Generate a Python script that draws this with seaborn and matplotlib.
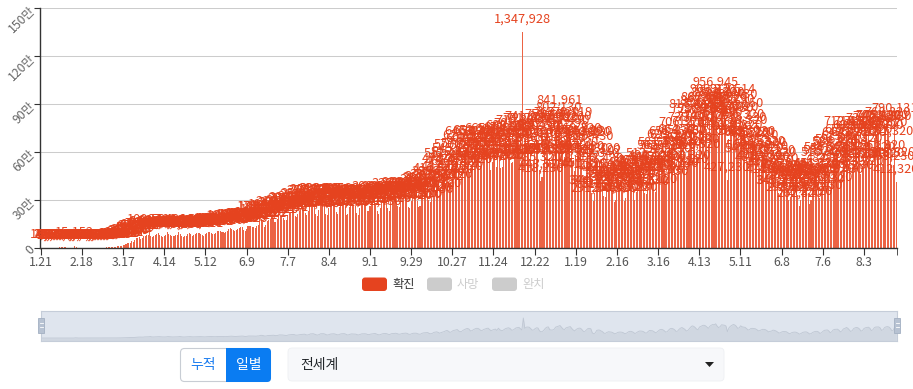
import numpy as np
import pandas as pd
import matplotlib
matplotlib.use("Agg")
import matplotlib.pyplot as plt
import seaborn as sb
from matplotlib.patches import FancyBboxPatch, Rectangle, Polygon

plt.rcParams["font.family"] = ["Noto Sans CJK KR", "DejaVu Sans"]

# daily new confirmed cases, worldwide (2020-01-21 .. 2021-08-25)
jan2020 = [149, 98, 277, 486, 669, 802, 2632, 578, 2054, 1661, 2098]
feb2020 = [2611, 2058, 3242, 3925, 3748, 3164, 3480, 2642, 3040, 2501, 2045, 408, 15152, 6509, 2129,
           2098, 1911, 1756, 740, 558, 1003, 1032, 317, 521, 806, 914, 1226, 1346, 1727]
mar2020 = [1811, 1878, 2364, 2258, 2715, 3955, 3913, 3680, 3958, 4487, 7027, 7118, 10832, 10660, 11116,
           13889, 15869, 18842, 27237, 31764, 30366, 33561, 41130, 40231, 50276, 62218, 64392, 65970,
           59296, 60117, 75063]
apr2020 = [76112, 80133, 84236, 100524, 76218, 71456, 76872, 81309, 85244, 92380, 80563, 76019, 71455,
           72211, 80632, 97421, 88230, 80190, 72391, 74132, 75210, 78911, 84250, 100105, 86233, 73462,
           70233, 74852, 76338, 87412]
may2020 = [94213, 85322, 77100, 81235, 85422, 92310, 95230, 94210, 86452, 80123, 76211, 86324, 92416,
           97830, 100124, 95231, 87520, 88142, 96327, 106234, 105436, 106850, 102341, 97213, 93120,
           100782, 107645, 118521, 125374, 118635, 111420]
jun2020 = [105230, 112420, 121345, 127436, 130254, 131211, 114235, 107123, 121232, 136401, 137420,
           139125, 134232, 131234, 126512, 140217, 142510, 179541, 181232, 160321, 134221, 141232,
           168230, 174512, 180234, 192130, 189213, 162411, 164210, 184230]
jul2020 = [210234, 208123, 204210, 189321, 177230, 176541, 209234, 217320, 227412, 238540, 230412,
           197420, 196340, 214232, 228541, 243212, 253421, 259123, 218234, 205231, 232145, 279321,
           280430, 288432, 254213, 215230, 199420, 239543, 288541, 292145, 290321]
aug2020 = [262340, 213120, 206310, 248421, 273412, 279320, 285421, 263241, 224310, 211420, 257432,
           283421, 289410, 295320, 264312, 208130, 215430, 255320, 277321, 270341, 269320, 260430,
           218430, 209341, 251220, 282341, 283120, 286530, 275420, 232410, 232150]
sep2020 = [263420, 276540, 283410, 308210, 266420, 228540, 212430, 248530, 283120, 299120, 306420,
           291230, 251340, 233410, 287320, 301420, 307560, 322410, 301230, 262430, 257420, 290340,
           312450, 323210, 331420, 306540, 254430, 249320, 291340, 321430]
oct2020 = [327540, 327120, 294320, 258430, 262120, 318430, 346540, 358320, 363420, 366230, 299120,
           287430, 313450, 380320, 399120, 416540, 380320, 325320, 367432, 398230, 432120, 478340,
           512432, 461230, 382120, 414320, 492120, 515430, 545120, 570340, 476230]
nov2020 = [429320, 446120, 523420, 576430, 621320, 646430, 602450, 475320, 497320, 560320, 614320,
           653210, 650430, 601420, 512430, 513420, 575640, 612540, 644320, 665430, 581320, 490320,
           538120, 576430, 602340, 507120, 662430, 561340, 497320, 508430]
dec2020 = [580340, 639210, 671320, 688430, 641320, 532430, 536120, 607320, 681230, 701430, 719320,
           634420, 542120, 1347928, 650320, 731420, 741230, 728430, 635320, 531420, 543120, 632410,
           688430, 673230, 485320, 418230, 443520, 529430, 656320, 728430, 752430]
jan2021 = [560340, 538210, 542130, 589320, 734320, 765430, 802130, 841961, 728430, 607320, 566430,
           680320, 717430, 741230, 770119, 643430, 539320, 478320, 581230, 636430, 669320, 654420,
           557430, 441120, 451320, 545430, 640320, 651230, 620430, 344320, 291540]
feb2021 = [344230, 512340, 541320, 531102, 478430, 421320, 322430, 318430, 381320, 423430, 412320,
           398430, 362120, 290320, 301430, 362430, 396540, 402120, 393430, 362320, 296120, 312430,
           374320, 440320, 452430, 431320, 383320, 301230]
mar2021 = [352120, 421430, 468320, 470320, 459230, 421120, 344230, 339540, 441320, 512320, 498120,
           487320, 432230, 351120, 402430, 487320, 562430, 581430, 559320, 492320, 398430, 429320,
           541430, 628320, 651430, 622320, 561320, 449230, 461320, 578430, 664320]
apr2021 = [706320, 652430, 585320, 476120, 498320, 614320, 739420, 817430, 791320, 712320, 601230,
           566320, 739320, 786430, 842320, 862430, 826320, 746320, 652120, 785320, 862430, 909320,
           891430, 956945, 803320, 701230, 767430, 893320, 880430, 862320]
may2021 = [812320, 427230, 681320, 791430, 851230, 912514, 880430, 797320, 652430, 684320, 824150,
           756320, 738430, 718320, 642320, 541320, 562430, 645320, 651230, 637121, 624320, 568320,
           487320, 498430, 548320, 585320, 581320, 557430, 494320, 411230, 448320]
jun2021 = [468320, 531150, 517320, 478430, 416320, 341230, 345320, 410320, 439320, 432230, 428320,
           372320, 298320, 316430, 371320, 392430, 401320, 383230, 332120, 262320, 299320, 364320,
           399430, 413320, 405230, 346320, 272120, 301320, 372430, 418320]
jul2021 = [446320, 451230, 411320, 309430, 351230, 443320, 518320, 533230, 546320, 482120, 362320,
           418320, 541230, 583320, 586430, 596230, 521320, 412430, 482320, 615320, 642320, 712430,
           659320, 548430, 439230, 503320, 641320, 689320, 712320, 683430, 604320]
aug2021 = [463320, 512320, 641230, 690320, 712430, 731320, 664320, 502430, 549320, 690320, 741320,
           744230, 748430, 684320, 509320, 561320, 703320, 751320, 768320, 742320, 651320, 493230,
           518320, 790131, 412320]

cases = (jan2020 + feb2020 + mar2020 + apr2020 + may2020 + jun2020 + jul2020 + aug2020 + sep2020
         + oct2020 + nov2020 + dec2020 + jan2021 + feb2021 + mar2021 + apr2021 + may2021 + jun2021
         + jul2021 + aug2021)
dates = pd.date_range("2020-01-21", periods=len(cases), freq="D")
print("days:", len(cases), dates[-1].date())

tick_labels = ["1.21", "2.18", "3.17", "4.14", "5.12", "6.9", "7.7", "8.4", "9.1", "9.29", "10.27",
               "11.24", "12.22", "1.19", "2.16", "3.16", "4.13", "5.11", "6.8", "7.6", "8.3"]
y_ticks = [0, 300000, 600000, 900000, 1200000, 1500000]
y_labels = ["0", "30만", "60만", "90만", "120만", "150만"]
legend_names = ["확진", "사망", "완치"]

df = pd.DataFrame({"day": np.arange(len(cases)), "cases": cases})
N = len(df)

RED = "#e5431f"
W, H = 913, 389
fig = plt.figure(figsize=(W / 100, H / 100), dpi=100)


def box(l, t, r, b):
    return [l / W, 1 - b / H, (r - l) / W, (b - t) / H]


# main bar chart
ax = fig.add_axes(box(40, 8, 897, 248))
sb.barplot(data=df, x="day", y="cases", color="#ec6344", saturation=1, width=0.7,
           errorbar=None, linewidth=0, ax=ax)
ax.set_xlim(-0.5, N - 0.5)
ax.set_ylim(0, 1500000)
ax.set_xlabel("")
ax.set_ylabel("")
ax.set_axisbelow(True)
ax.yaxis.grid(True, color="#cccccc", linewidth=0.75)
ax.xaxis.grid(False)
for s in ["top", "right"]:
    ax.spines[s].set_visible(False)
for s in ["left", "bottom"]:
    ax.spines[s].set_color("#333333")
    ax.spines[s].set_linewidth(1)

ax.set_yticks(y_ticks, y_labels)
ax.tick_params(axis="y", length=4, color="#333333", labelsize=8.8, labelcolor="#666666", pad=1)
for lbl in ax.get_yticklabels():
    lbl.set_rotation(45)
    lbl.set_rotation_mode("anchor")
    lbl.set_ha("right")
    lbl.set_va("center")

tick_pos = [i * 28 for i in range(len(tick_labels))]
ax.set_xticks(tick_pos, tick_labels)
ax.set_xticks([N - 0.5], minor=True)
ax.tick_params(axis="x", which="both", length=5, color="#333333", labelsize=8.8,
               labelcolor="#555555", pad=1)

for i, v in enumerate(cases):
    ax.annotate(f"{v:,}", (i, v), xytext=(0, 13), textcoords="offset pixels",
                ha="center", va="center", fontsize=9.2, color=RED,
                annotation_clip=False, clip_on=False)

# data zoom slider
sl = fig.add_axes(box(41, 311, 897, 341))
sl.set_facecolor("#dfe5ee")
sl.fill_between(df["day"], df["cases"], -300000, color="#d0d7e1", linewidth=0)
sl.plot(df["day"], df["cases"], color="#bfc7d3", linewidth=0.6)
sl.set_xlim(-0.5, N - 0.5)
sl.set_ylim(-200000, 1820000)
sl.set_xticks([])
sl.set_yticks([])
for s in sl.spines.values():
    s.set_color("#c5cdd9")
    s.set_linewidth(0.8)

# overlay in pixel coordinates for legend, handles and controls
ov = fig.add_axes([0, 0, 1, 1], zorder=5)
ov.set_xlim(0, W)
ov.set_ylim(H, 0)
ov.axis("off")

leg_x = [362, 427, 492]
leg_fill = [RED, "#cccccc", "#cccccc"]
leg_text = ["#333333", "#cccccc", "#cccccc"]
for x0, name, fc, tc in zip(leg_x, legend_names, leg_fill, leg_text):
    ov.add_patch(FancyBboxPatch((x0, 277.5), 25, 13.5, boxstyle="round,pad=0,rounding_size=3",
                                facecolor=fc, edgecolor="none"))
    ov.text(x0 + 30, 284.5, name, fontsize=8.8, color=tc, ha="left", va="center")

for hx in [41, 897]:
    ov.add_patch(Rectangle((hx - 3, 318), 6, 15, facecolor="#b7c2d2", edgecolor="#a3b0c2",
                           linewidth=0.6))
    for hy in [323, 326.5]:
        ov.plot([hx - 1.5, hx + 1.5], [hy, hy], color="white", linewidth=0.6)

# buttons
ov.add_patch(FancyBboxPatch((180.5, 348.5), 90, 33, boxstyle="round,pad=0,rounding_size=4",
                            facecolor="white", edgecolor="#c8cdd4", linewidth=0.8))
ov.add_patch(FancyBboxPatch((226, 348), 45, 34, boxstyle="round,pad=0,rounding_size=4",
                            facecolor="#0a7cf2", edgecolor="none"))
ov.add_patch(Rectangle((226, 348), 6, 34, facecolor="#0a7cf2", edgecolor="none"))
ov.text(203, 365, "누적", fontsize=10, color="#1a7cf0", ha="center", va="center")
ov.text(248.5, 365, "일별", fontsize=10, color="white", ha="center", va="center")

# country dropdown
ov.add_patch(FancyBboxPatch((288, 348), 436, 33, boxstyle="round,pad=0,rounding_size=4",
                            facecolor="#f7f8fa", edgecolor="#eef0f3", linewidth=0.6))
ov.text(300, 364.5, "전세계", fontsize=10, color="#212529", ha="left", va="center")
ov.add_patch(Polygon([[705, 362], [714, 362], [709.5, 367]], closed=True,
                     facecolor="#222222", edgecolor="none"))

fig.savefig("out.png", dpi=100)
